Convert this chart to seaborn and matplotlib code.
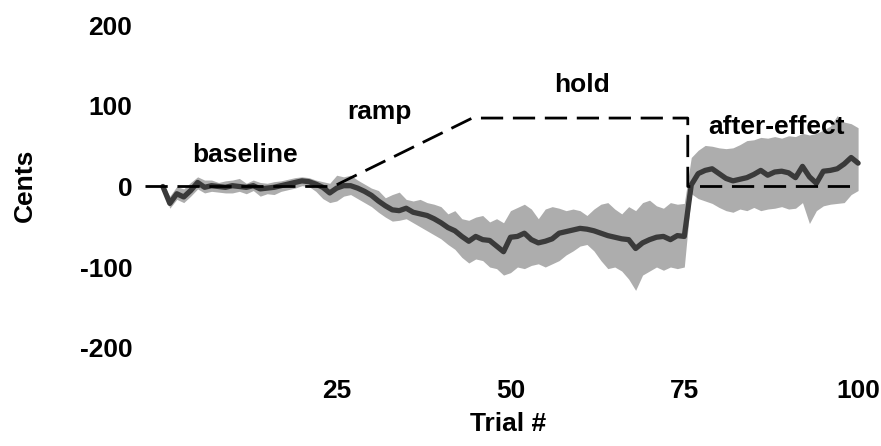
import numpy as np
import matplotlib
matplotlib.use('Agg')
import matplotlib.pyplot as plt
import seaborn as sns

sns.set_theme(style='white')
plt.rcParams['font.family'] = ['Liberation Sans', 'DejaVu Sans']
plt.rcParams['font.weight'] = 'bold'
plt.rcParams['axes.unicode_minus'] = False
plt.rcParams['text.color'] = 'black'
plt.rcParams['axes.labelcolor'] = 'black'
plt.rcParams['xtick.color'] = 'black'
plt.rcParams['ytick.color'] = 'black'

# mean pitch response (cents) per trial, with shaded band limits
trials = list(range(0, 101))
mean_cents = [0, -21, -9, -13, -5, 5, -1, 1, 0, -1,
              1, 0, -1, 1, -3, -2, -1, 1, 3, 5,
              7, 6, 3, -1, -8, -2, 1, 1, -2, -6,
              -11, -18, -24, -29, -30, -27, -32, -34, -36, -40,
              -45, -51, -55, -62, -68, -62, -66, -67, -74, -81,
              -63, -62, -58, -66, -70, -68, -65, -58, -56, -54,
              -52, -53, -55, -58, -61, -63, -65, -66, -77, -70,
              -66, -63, -62, -66, -61, -62, 2, 16, 20, 22,
              16, 10, 7, 9, 11, 15, 20, 14, 18, 19,
              17, 11, 25, 12, 4, 19, 20, 22, 28, 36,
              29]
upper_cents = [3, -12, 0, -3, 5, 12, 8, 8, 5, 7,
               8, 10, 4, 8, 5, 4, 6, 7, 9, 11,
               12, 11, 8, 6, 4, 14, 12, 14, 8, 3,
               -2, -5, -14, -10, -7, -16, -18, -16, -20, -22,
               -25, -34, -30, -40, -42, -38, -36, -44, -40, -45,
               -30, -26, -22, -28, -40, -28, -25, -27, -30, -28,
               -30, -36, -28, -22, -20, -28, -34, -25, -30, -20,
               -17, -24, -27, -20, -22, -21, 36, 45, 51, 50,
               48, 47, 48, 52, 57, 58, 61, 60, 62, 60,
               63, 62, 66, 64, 66, 70, 75, 88, 80, 78,
               73]
lower_cents = [-3, -27, -16, -20, -12, -3, -8, -6, -7, -8,
               -8, -6, -9, -5, -12, -9, -10, -6, -4, -2,
               1, 0, -6, -15, -20, -18, -12, -10, -15, -20,
               -25, -32, -38, -43, -42, -40, -45, -50, -55, -60,
               -65, -72, -78, -88, -95, -90, -92, -100, -102, -110,
               -107, -100, -102, -98, -96, -100, -96, -92, -85, -80,
               -74, -72, -80, -92, -102, -100, -105, -115, -129, -110,
               -105, -100, -104, -100, -102, -100, -9, -15, -18, -21,
               -26, -30, -32, -28, -30, -26, -30, -28, -27, -25,
               -28, -27, -20, -46, -30, -24, -22, -21, -20, -10,
               -5]

# pitch perturbation schedule (dashed)
pert_trials = [-2.5, 24.5, 44.5, 75.5, 75.5, 100]
pert_cents = [0, 0, 85, 85, 0, 0]

# phase labels
phase_names = ['baseline', 'ramp', 'hold', 'after-effect']
phase_x = [11.8, 31.2, 60.3, 88.3]
phase_y = [39, 92, 126, 74]

fig = plt.figure(figsize=(8.81, 4.46), dpi=100)
ax = fig.add_axes([0.1612, 0.1666, 0.8207, 0.8034])

ax.fill_between(trials, lower_cents, upper_cents, color='#adadad', lw=0, zorder=1)
sns.lineplot(x=trials, y=mean_cents, ax=ax, color='#3a3a3a', lw=3.8, zorder=2)
ax.plot(pert_trials, pert_cents, color='black', lw=2, dashes=(8, 3.5), zorder=3)

for name, x, y in zip(phase_names, phase_x, phase_y):
    ax.text(x, y, name, ha='center', va='center', fontsize=19, fontweight='bold')

ax.set_xlim(-3, 101)
ax.set_ylim(-230, 215)
ax.set_xticks([25, 50, 75, 100])
ax.set_yticks([-200, -100, 0, 100, 200])
ax.tick_params(axis='both', length=0, labelsize=19)
ax.tick_params(axis='x', pad=5)
ax.tick_params(axis='y', pad=7)
for lab in ax.get_xticklabels() + ax.get_yticklabels():
    lab.set_fontweight('bold')

ax.set_xlabel('Trial #', fontsize=19, fontweight='bold')
ax.set_ylabel('Cents', fontsize=19, fontweight='bold')
ax.xaxis.set_label_coords(0.506, -0.112)
ax.yaxis.set_label_coords(-0.145, 0.521)

sns.despine(ax=ax, left=True, bottom=True)

plt.savefig('out.png', dpi=100)
